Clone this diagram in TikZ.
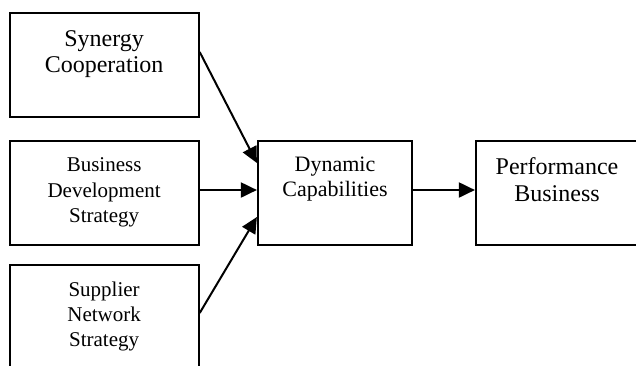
\documentclass[tikz,border=0pt]{standalone}
\usepackage{fontspec}
\setmainfont{Liberation Serif}
\usetikzlibrary{arrows.meta}
\tikzset{
  box/.style={draw=black, line width=2.2pt, inner sep=0pt},
  txt/.style={align=center, inner sep=0pt, anchor=base},
  conn/.style={line width=2pt, -{Triangle[length=16pt,width=15pt]}, shorten >=0pt}
}
\begin{document}
\begin{tikzpicture}[x=1pt,y=-1pt]
\useasboundingbox (0,0) rectangle (636,365);
\clip (0,0) rectangle (636,365);
% boxes
\node[box, minimum width=189pt, minimum height=104pt] (syn) at (104.1,64.7) {};
\node[box, minimum width=189pt, minimum height=104pt] (bds) at (104.1,192.7) {};
\node[box, minimum width=189pt, minimum height=104pt] (sns) at (104.1,317) {};
\node[box, minimum width=154pt, minimum height=103.4pt] (dyn) at (335,193) {};
\node[box, minimum width=162pt, minimum height=103.4pt] (perf) at (557,193) {};
% texts (anchored at the baseline of the last line)
\node[txt, font=\fontsize{24}{26}\selectfont] (tsyn) at (104.1,72.7) {Synergy\\Cooperation};
\node[txt, font=\fontsize{21}{25.5}\selectfont] (tbds) at (104.1,222.7) {Business\\Development\\Strategy};
\node[txt, font=\fontsize{21}{25}\selectfont] (tsns) at (104.1,346.7) {Supplier\\Network\\Strategy};
\node[txt, font=\fontsize{22}{25}\selectfont] (tdyn) at (335,196.7) {Dynamic\\Capabilities};
\node[txt, font=\fontsize{24}{27.5}\selectfont] (tperf) at (557,201.7) {Performance\\Business};
% connectors
\draw[conn] (syn.east |- 0,52) -- (dyn.west |- 0,163);
\draw[conn] (bds.east |- 0,190) -- (dyn.west |- 0,190);
\draw[conn] (sns.east |- 0,313) -- (dyn.west |- 0,217);
\draw[conn] (dyn.east |- 0,190) -- (perf.west |- 0,190);
\end{tikzpicture}
\end{document}
